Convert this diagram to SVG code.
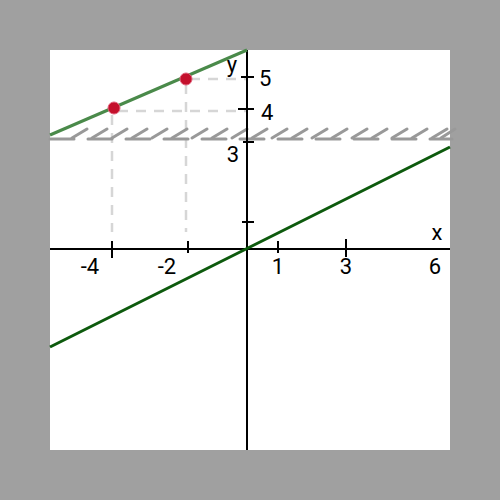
<svg xmlns="http://www.w3.org/2000/svg" width="500" height="500" viewBox="0 0 500 500">
<style>
.ax{stroke:#000;stroke-width:2;fill:none}
.lbl{font-family:Roboto,"Liberation Sans",sans-serif;font-size:22px;fill:#000}
.help{stroke:#d6d6d6;stroke-width:2.5;stroke-dasharray:10 8;fill:none}
.hatch{stroke:#999;stroke-width:3;fill:none;stroke-linecap:round}
.pt{fill:#c4102c;stroke:#e0607a;stroke-width:1}
</style>
<rect width="500" height="500" fill="#a0a0a0"/>
<rect x="50" y="50" width="400" height="400" fill="#fff"/>
<g id="helpers">
<path class="help" d="M118 111H247M190 79H247M112 115V232M186 84V232"/>
</g>
<g id="hatch">
<path class="hatch" stroke-dasharray="24 14" d="M50 139H452"/>
<path class="hatch" d="M72 138l15-9M92 138l15-9M112 138l15-9M132 138l15-9M152 138l15-9M172 138l15-9M192 138l15-9M212 138l15-9M232 138l15-9M252 138l15-9M272 138l15-9M292 138l15-9M312 138l15-9M332 138l15-9M352 138l15-9M372 138l15-9M392 138l15-9M412 138l15-9M432 138l15-9M441 138l14-9"/>
</g>
<g id="axes">
<path class="ax" d="M247 50V450M50 249H450"/>
<path class="ax" d="M112 241V258M188 241V253M278 241V253M346 239V257M242 222H254M241 77H254M238 109H254M243 142H254"/>
</g>
<g id="labels">
<text class="lbl" x="90" y="274" text-anchor="middle">-4</text>
<text class="lbl" x="167" y="274" text-anchor="middle">-2</text>
<text class="lbl" x="278" y="274" text-anchor="middle">1</text>
<text class="lbl" x="346" y="274" text-anchor="middle">3</text>
<text class="lbl" x="435" y="274" text-anchor="middle">6</text>
<text class="lbl" x="437" y="240" text-anchor="middle">x</text>
<text class="lbl" x="232" y="72" text-anchor="middle">y</text>
<text class="lbl" x="259" y="86">5</text>
<text class="lbl" x="261" y="120">4</text>
<text class="lbl" x="233" y="162" text-anchor="middle">3</text>
</g>
<g id="lines">
<line x1="50" y1="347" x2="450" y2="147" stroke="#0d5a0d" stroke-width="3"/>
<line x1="50" y1="135" x2="247" y2="50" stroke="#4a8a4a" stroke-width="3"/>
</g>
<g id="points">
<circle class="pt" cx="114" cy="108" r="6"/>
<circle class="pt" cx="186" cy="79" r="6"/>
</g>
</svg>
